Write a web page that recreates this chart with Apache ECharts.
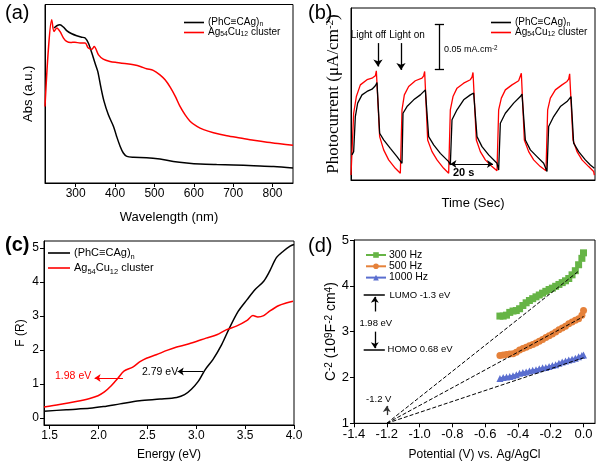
<!DOCTYPE html>
<html><head><meta charset="utf-8">
<script src="https://cdn.jsdelivr.net/npm/echarts@6/dist/echarts.min.js"></script>
<style>html,body{margin:0;padding:0;background:#fff}#c{width:600px;height:466px}</style>
</head><body><div id="c"></div>
<script>
// ---------- (a) UV-vis absorption ----------
const absWavelengthRed = [222,230.5,239,245,252,260,269,277,287,298,311,324,332,341,347,358,370,387,404,430,447,464,480,497,514,527,540,553,565,578,591,608,625,650,684,718,752,786,819,852];
const absRed = [0.429,0.746,0.914,0.849,0.868,0.849,0.812,0.793,0.787,0.789,0.784,0.784,0.756,0.75,0.765,0.718,0.694,0.681,0.675,0.668,0.662,0.653,0.64,0.631,0.606,0.578,0.537,0.485,0.429,0.382,0.345,0.317,0.299,0.282,0.265,0.252,0.239,0.228,0.22,0.211];
const absWavelengthBlack = [245,252,260,269,277,290,302.5,315,324,332,341,349,356,363.5,372,383,396,404,413,421,430,447,480,514,548,582,616,658,701,752,803,852];
const absBlack = [0.868,0.881,0.886,0.873,0.854,0.836,0.825,0.817,0.812,0.784,0.728,0.672,0.625,0.541,0.457,0.382,0.317,0.261,0.205,0.168,0.149,0.144,0.142,0.134,0.121,0.112,0.106,0.103,0.101,0.097,0.093,0.084];
const wavelengthTicks = [300,400,500,600,700,800];

// ---------- (b) photocurrent ----------
const photoTimeRed = [0,1.33,2.67,4.67,8,10.5,12.17,12.67,14.33,16.33,18.83,22.17,24.67,25.5,26.67,28.83,32.17,35.5,36.33,36.83,38.33,40.5,43,46.33,48.83,49.67,51,53,56.33,59.67,60.5,61,62.67,64.67,67.17,70.5,73,73.83,75.17,77.17,80.5,83.83,84.67,85.17,86.67,88.83,91.33,94.67,97.5,98.33,99.67,102.17,105.5,108,108.83,109.33,111,113,115.5,118.83,121.33,121.67];
const photoRed = [2.9,38.8,48.5,55.3,58.3,59.2,60.6,63.5,25.2,17.5,11.7,6.8,3.9,40.8,49.5,54.4,57.7,59.2,60.6,63.1,23.3,16.5,11.7,6.8,3.9,40.8,48.5,53.4,56.3,58.3,59.8,62.5,23.3,16.5,11.7,7.8,5.4,40.8,47.6,52.4,55.3,57.7,58.8,62.1,23.3,16.5,11.7,7.8,5.4,40.8,47.6,52.4,55.3,57.3,58.6,61.7,23.3,16.5,11.7,7.8,4.9,2.9];
const photoTimeBlack = [0.5,1.33,2.17,3.33,5.5,8,10.5,12.17,13,14.33,16.33,19.67,23,25.5,26,28,31.33,34.67,37.17,38.83,41.33,44.67,48.83,49.67,50.5,53,56.33,59.67,61.33,63,65.5,68.83,73,73.83,74.67,77.17,81.33,84.67,85.5,87.17,89.67,93,96.33,98,98.83,101.33,104.67,108,110,111.33,113.83,117.17,119.67,121.67];
const photoBlack = [14.6,16.5,36.9,44.7,49.5,51.5,52.8,54.8,56.7,27.2,23.3,18.4,13.6,9.7,38.8,42.7,46.6,49.5,52.4,25.2,20.4,15.5,10.7,8.7,35.0,40.8,46.6,49.5,50.5,25.2,19.4,14.6,9.7,5.8,33.0,38.8,44.7,48.5,49.9,23.3,17.5,13.6,9.7,4.9,31.1,36.9,42.7,45.6,48.5,21.4,16.5,11.7,8.7,6.8];

// ---------- (c) Kubelka-Munk ----------
const energyRed = [1.442,1.60,1.77,1.91,1.995,2.06,2.13,2.20,2.26,2.35,2.42,2.49,2.59,2.70,2.80,2.90,3.0,3.1,3.21,3.31,3.41,3.52,3.58,3.63,3.69,3.75,3.84,3.92,3.99];
const fRed = [0.33,0.40,0.49,0.58,0.66,0.77,0.95,1.18,1.38,1.50,1.65,1.76,1.86,1.99,2.09,2.16,2.25,2.35,2.45,2.6,2.7,2.87,3.01,2.97,3.01,3.14,3.30,3.38,3.43];
const energyBlack = [1.442,1.67,1.91,2.05,2.22,2.42,2.63,2.80,2.88,2.95,3.02,3.09,3.17,3.26,3.34,3.43,3.52,3.60,3.69,3.75,3.82,3.89,3.96,4.0];
const fBlack = [0.20,0.25,0.29,0.34,0.42,0.51,0.56,0.61,0.69,0.85,1.08,1.42,1.72,2.16,2.65,3.14,3.48,3.77,4.02,4.31,4.71,4.90,5.05,5.10];
const energyTicks = [1.5,2.0,2.5,3.0,3.5,4.0];
const fTicks = [0,1,2,3,4,5];

// ---------- (d) Mott-Schottky ----------
const potential = [-0.51,-0.49,-0.47,-0.45,-0.43,-0.41,-0.39,-0.37,-0.35,-0.33,-0.31,-0.29,-0.27,-0.25,-0.23,-0.21,-0.19,-0.17,-0.15,-0.13,-0.11,-0.09,-0.07,-0.05,-0.03,-0.01,0.0];
const c300 = [3.34,3.34,3.36,3.42,3.45,3.46,3.50,3.57,3.63,3.68,3.72,3.76,3.80,3.84,3.88,3.92,3.95,3.99,4.03,4.07,4.11,4.16,4.24,4.33,4.46,4.60,4.72];
const c500 = [2.48,2.49,2.50,2.51,2.52,2.55,2.60,2.63,2.66,2.69,2.72,2.75,2.79,2.83,2.87,2.91,2.95,2.99,3.04,3.08,3.12,3.17,3.21,3.25,3.28,3.36,3.46];
const c1000 = [1.98,2.00,2.01,2.02,2.04,2.06,2.09,2.11,2.12,2.14,2.16,2.17,2.19,2.21,2.22,2.24,2.26,2.28,2.31,2.34,2.36,2.38,2.40,2.42,2.45,2.48,2.49];
const fitEnd300 = [-0.03,4.32], fitEnd500 = [0.0,3.33], fitEnd1000 = [0.0,2.43];
const flatBand = [-1.2,1.0];
const potentialTicks = [-1.4,-1.2,-1.0,-0.8,-0.6,-0.4,-0.2,0.0];

const FONT = '"Liberation Sans", Arial, sans-serif';
const NARROW = '"Liberation Sans Narrow", "Liberation Sans", Arial, sans-serif';
const SERIF = '"Liberation Serif", "Times New Roman", serif';
const nameA = 'PhCCAg', nameB = 'Ag54Cu12';
const zip = (xs, ys) => xs.map((x, i) => [x, ys[i]]);
const legendFmt = n => n === nameA ? '(PhC≡CAg){sub|n}' : n === nameB ? 'Ag{sub|54}Cu{sub|12} cluster' : n;
const richSub = (fs) => ({ sub: { fontSize: fs * 0.68, lineHeight: fs * 0.55, verticalAlign: 'bottom', fontFamily: FONT, color: '#000' } });

function seg(p1, p2, o) {
  o = o || {};
  return [
    { coord: p1, symbol: o.s1 || 'none', symbolSize: o.size || 6, lineStyle: { color: o.color || '#000', width: o.width || 1, type: o.type || 'solid' } },
    { coord: p2, symbol: o.s2 || 'none', symbolSize: o.size || 6 }
  ];
}
function txt(p, text, o) {
  o = o || {};
  return {
    coord: p, symbol: 'circle', symbolSize: 1, itemStyle: { color: 'rgba(0,0,0,0)' },
    label: { show: true, position: o.pos || 'inside', distance: 0, formatter: text, color: o.color || '#000',
      fontSize: o.fs || 10, fontFamily: o.ff || FONT, fontWeight: o.fw || 'normal',
      rich: { sup: { fontSize: (o.fs || 10) * 0.7, verticalAlign: 'top', color: o.color || '#000', fontFamily: o.ff || FONT } } }
  };
}
const mlBase = { silent: true, animation: false, symbol: ['none', 'none'], label: { show: false }, emphasis: { disabled: true } };
const mpBase = { silent: true, animation: false };

const axLine = { show: true, onZero: false, lineStyle: { color: '#000', width: 1 } };
const gridBase = { show: true, borderColor: '#000', borderWidth: 1, backgroundColor: 'rgba(0,0,0,0)', outerBoundsMode: 'none' };

function valAxis(gi, min, max, ticks, extra) {
  return Object.assign({
    type: 'value', gridIndex: gi, min, max, splitLine: { show: false }, axisLine: axLine,
    axisTick: ticks ? { show: true, length: 4, lineStyle: { color: '#000' }, customValues: ticks } : { show: false },
    axisLabel: ticks ? { show: true, color: '#000', fontFamily: FONT, fontSize: 12, margin: 5, customValues: ticks } : { show: false },
    nameLocation: 'middle', nameTextStyle: { color: '#000', fontFamily: FONT, fontSize: 13 }
  }, extra || {});
}
function lineLegend(left, top, fs, lh, gap, w) {
  return { orient: 'vertical', left, top, padding: 0, itemWidth: w, itemHeight: 1.6, icon: 'rect', itemGap: gap, selectedMode: false,
    data: [nameA, nameB], formatter: legendFmt,
    textStyle: { fontSize: fs, lineHeight: lh, color: '#000', fontFamily: FONT, padding: [0, 0, 0, -1], rich: richSub(fs) } };
}

const option = {
  animation: false,
  backgroundColor: '#fff',
  textStyle: { fontFamily: FONT },
  title: [
    { text: '(a)', left: 0, top: -2, textStyle: { fontSize: 20, fontWeight: 'normal', fontFamily: FONT, color: '#000' } },
    { text: '(b)', left: 303, top: -2, textStyle: { fontSize: 20, fontWeight: 'normal', fontFamily: FONT, color: '#000' } },
    { text: '(c)', left: 0, top: 230, textStyle: { fontSize: 20, fontWeight: 'bold', fontFamily: FONT, color: '#000' } },
    { text: '(d)', left: 303, top: 231, textStyle: { fontSize: 20, fontWeight: 'normal', fontFamily: FONT, color: '#000' } }
  ],
  grid: [
    Object.assign({ left: 45, top: 4.5, width: 248, height: 178.5 }, gridBase),
    Object.assign({ left: 351, top: 8, width: 244, height: 172 }, gridBase),
    Object.assign({ left: 44, top: 241, width: 250, height: 184 }, gridBase),
    Object.assign({ left: 354, top: 240, width: 241, height: 183.3 }, gridBase)
  ],
  xAxis: [
    valAxis(0, 222, 852, wavelengthTicks, { name: 'Wavelength (nm)', nameGap: 28 }),
    valAxis(1, 0, 122, null, { name: 'Time (Sec)', nameGap: 17 }),
    valAxis(2, 1.442, 4.0, energyTicks, { name: 'Energy (eV)', nameGap: 24,
      axisLabel: { show: true, color: '#000', fontFamily: FONT, fontSize: 12, margin: 5, customValues: energyTicks, formatter: v => v.toFixed(1) },
      nameTextStyle: { color: '#000', fontFamily: FONT, fontSize: 12 } }),
    valAxis(3, -1.4, 0.07, potentialTicks, { name: 'Potential (V) vs. Ag/AgCl', nameGap: 25,
      axisLabel: { show: true, color: '#000', fontFamily: FONT, fontSize: 13, margin: 5, customValues: potentialTicks, formatter: v => v.toFixed(1) },
      nameTextStyle: { color: '#000', fontFamily: FONT, fontSize: 12 } })
  ],
  yAxis: [
    valAxis(0, 0, 1, null, { name: 'Abs (a.u.)', nameGap: 10 }),
    valAxis(1, 0, 100, null, { name: 'Photocurrent (μA/cm{sup|-2})', nameGap: 9,
      nameTextStyle: { color: '#000', fontFamily: SERIF, fontSize: 17, rich: { sup: { fontSize: 11, verticalAlign: 'top', fontFamily: SERIF, color: '#000' } } } }),
    valAxis(2, -0.2, 5.2, fTicks, { name: 'F (R)', nameGap: 17, nameTextStyle: { color: '#000', fontFamily: FONT, fontSize: 12 } }),
    valAxis(3, 1, 5, null, { interval: 1, name: 'C{sup|-2} (10{sup|9}F{sup|-2} cm{sup|4})', nameGap: 13,
      axisTick: { show: true, length: 4, lineStyle: { color: '#000' } },
      axisLabel: { show: true, color: '#000', fontFamily: FONT, fontSize: 13, margin: 5 },
      nameTextStyle: { color: '#000', fontFamily: FONT, fontSize: 14, rich: { sup: { fontSize: 10, verticalAlign: 'top', fontFamily: FONT, color: '#000' } } } })
  ],
  legend: [
    lineLegend(184, 17.5, 10, 10, 0, 20),
    lineLegend(491, 17.5, 10, 10, 0, 20),
    lineLegend(48, 246, 11, 14, 1, 22),
    { orient: 'vertical', left: 365, top: 249.5, padding: 0, itemWidth: 20, itemHeight: 7, itemGap: 0.3, selectedMode: false, data: ['300 Hz', '500 Hz', '1000 Hz'],
      textStyle: { fontSize: 10.5, lineHeight: 11, color: '#000', fontFamily: FONT, padding: [0, 0, 0, -2] } }
  ],
  series: [
    // (a)
    { name: nameA, type: 'line', xAxisIndex: 0, yAxisIndex: 0, data: zip(absWavelengthBlack, absBlack), symbol: 'none', smooth: 0.3, lineStyle: { color: '#000', width: 1.5 }, itemStyle: { color: '#000' } },
    { name: nameB, type: 'line', xAxisIndex: 0, yAxisIndex: 0, data: zip(absWavelengthRed, absRed), symbol: 'none', smooth: 0.3, lineStyle: { color: '#f00', width: 1.5 }, itemStyle: { color: '#f00' } },
    // (b)
    { name: nameB, type: 'line', xAxisIndex: 1, yAxisIndex: 1, data: zip(photoTimeRed, photoRed), symbol: 'none', lineStyle: { color: '#f00', width: 1.3 }, itemStyle: { color: '#f00' } },
    { name: nameA, type: 'line', xAxisIndex: 1, yAxisIndex: 1, data: zip(photoTimeBlack, photoBlack), symbol: 'none', lineStyle: { color: '#000', width: 1.3 }, itemStyle: { color: '#000' },
      markLine: Object.assign({}, mlBase, { data: [
        seg([13.5, 79.6], [13.5, 66], { s2: 'arrow', size: 7, width: 1.3 }),
        seg([25, 79.6], [25, 64], { s2: 'arrow', size: 7, width: 1.3 }),
        seg([44.2, 90.3], [44.2, 64.5], { width: 1.3 }),
        seg([41.9, 90.3], [46.5, 90.3], { width: 1.3 }),
        seg([41.9, 64.5], [46.5, 64.5], { width: 1.3 }),
        seg([49.7, 9.3], [71, 9.3], { s1: 'arrow', s2: 'arrow', size: 6, width: 1 })
      ] }),
      markPoint: Object.assign({}, mpBase, { data: [
        txt([8.7, 83.9], 'Light off', { ff: NARROW, fs: 10 }),
        txt([28, 83.9], 'Light on', { ff: NARROW, fs: 10 }),
        txt([46.2, 75.7], '0.05 mA.cm{sup|-2}', { pos: 'right', fs: 9 }),
        txt([56.3, 3.9], '20 s', { fw: 'bold', fs: 11 })
      ] }) },
    // (c)
    { name: nameA, type: 'line', xAxisIndex: 2, yAxisIndex: 2, data: zip(energyBlack, fBlack), symbol: 'none', smooth: 0.3, lineStyle: { color: '#000', width: 1.5 }, itemStyle: { color: '#000' },
      markLine: Object.assign({}, mlBase, { data: [
        seg([3.07, 1.37], [2.81, 1.37], { s2: 'arrow', size: 6 })
      ] }),
      markPoint: Object.assign({}, mpBase, { data: [
        txt([2.63, 1.34], '2.79 eV', { fs: 10.5 })
      ] }) },
    { name: nameB, type: 'line', xAxisIndex: 2, yAxisIndex: 2, data: zip(energyRed, fRed), symbol: 'none', smooth: 0.3, lineStyle: { color: '#f00', width: 1.5 }, itemStyle: { color: '#f00' },
      markLine: Object.assign({}, mlBase, { data: [
        seg([2.25, 1.18], [1.96, 1.18], { s2: 'arrow', size: 6, color: '#f00' })
      ] }),
      markPoint: Object.assign({}, mpBase, { data: [
        txt([1.74, 1.23], '1.98 eV', { fs: 10.5, color: '#f00' })
      ] }) },
    // (d)
    { name: '300 Hz', type: 'line', xAxisIndex: 3, yAxisIndex: 3, data: zip(potential, c300), symbol: 'rect', symbolSize: 7, lineStyle: { color: '#66b446', width: 2 }, itemStyle: { color: '#66b446' },
      markLine: Object.assign({}, mlBase, { data: [
        seg(flatBand, fitEnd300, { type: 'dashed' }),
        seg(flatBand, fitEnd500, { type: 'dashed' }),
        seg(flatBand, fitEnd1000, { type: 'dashed' }),
        seg([-1.341, 3.8], [-1.212, 3.8], { width: 1.5 }),
        seg([-1.341, 2.6], [-1.212, 2.6], { width: 1.5 }),
        seg([-1.273, 3.44], [-1.273, 3.76], { s2: 'arrow', size: 6, width: 1.3 }),
        seg([-1.273, 3.0], [-1.273, 2.64], { s2: 'arrow', size: 6, width: 1.3 }),
        seg([-1.2, 1.18], [-1.2, 1.38], { s2: 'arrow', size: 6, width: 1.3, color: '#333' })
      ] }),
      markPoint: Object.assign({}, mpBase, { data: [
        txt([-1.186, 3.8], 'LUMO -1.3 eV', { pos: 'right', fs: 9.5 }),
        txt([-1.267, 3.18], '1.98 eV', { fs: 9.5 }),
        txt([-1.198, 2.61], 'HOMO 0.68 eV', { pos: 'right', fs: 9.5 }),
        txt([-1.249, 1.52], '-1.2 V', { fs: 9.5 })
      ] }) },
    { name: '500 Hz', type: 'line', xAxisIndex: 3, yAxisIndex: 3, data: zip(potential, c500), symbol: 'circle', symbolSize: 7, lineStyle: { color: '#e5813a', width: 2 }, itemStyle: { color: '#e5813a' } },
    { name: '1000 Hz', type: 'line', xAxisIndex: 3, yAxisIndex: 3, data: zip(potential, c1000), symbol: 'triangle', symbolSize: 7, lineStyle: { color: '#5a6ecf', width: 2 }, itemStyle: { color: '#5a6ecf' } }
  ]
};
const chart = echarts.init(document.getElementById('c'), null, { renderer: 'canvas' });
chart.setOption(option);
</script>
</body></html>
